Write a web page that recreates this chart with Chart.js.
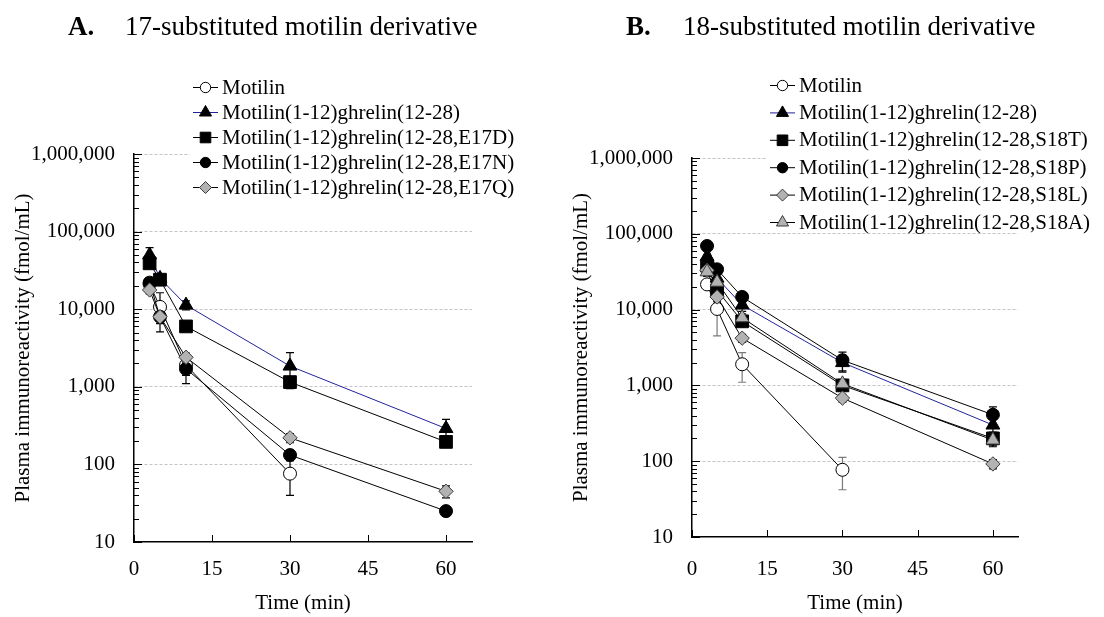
<!DOCTYPE html>
<html><head><meta charset="utf-8">
<script src="https://cdn.jsdelivr.net/npm/chart.js@4.4.1/dist/chart.umd.min.js"></script>
<style>
html,body{margin:0;padding:0;background:#fff;}
#wrap{position:relative;width:1104px;height:617px;overflow:hidden;background:#fff;}
canvas{position:absolute;top:0;}
#ca{left:0;} #cb{left:552px;}
</style></head><body>
<div id="wrap"><canvas id="ca" width="552" height="617"></canvas><canvas id="cb" width="552" height="617"></canvas></div>
<script>
// ---------- data ----------
const times = [3, 5, 10, 30, 60];
const xTicks = [0, 15, 30, 45, 60];
const yTicks = [10, 100, 1000, 10000, 100000, 1000000];

// Panel A : 17-substituted
const labelsA = ['Motilin', 'Motilin(1-12)ghrelin(12-28)', 'Motilin(1-12)ghrelin(12-28,E17D)',
  'Motilin(1-12)ghrelin(12-28,E17N)', 'Motilin(1-12)ghrelin(12-28,E17Q)'];
const motilinA = [21000, 10700, 1900, 76, null];
const motilinAErr = [3000, 5600, 800, 36, null];
const ghrelinA = [50000, 25000, 11300, 1850, 290];
const ghrelinAErr = [12000, 3000, 1500, 900, 90];
const e17d = [39000, 24000, 6000, 1150, 195];
const e17dErr = [5000, 3000, 800, 150, 25];
const e17n = [22000, 8000, 1700, 132, 25];
const e17nErr = [3000, 1000, 300, 20, 2];
const e17q = [17700, 8000, 2400, 220, 45];
const e17qErr = [2000, 1500, 300, 30, 8];

// Panel B : 18-substituted
const labelsB = ['Motilin', 'Motilin(1-12)ghrelin(12-28)', 'Motilin(1-12)ghrelin(12-28,S18T)',
  'Motilin(1-12)ghrelin(12-28,S18P)', 'Motilin(1-12)ghrelin(12-28,S18L)', 'Motilin(1-12)ghrelin(12-28,S18A)'];
const motilinB = [21500, 10200, 1900, 77, null];
const motilinBErr = [3000, 5700, 800, 35, null];
const ghrelinB = [50000, 26000, 11500, 2000, 300];
const ghrelinBErr = [10000, 4000, 2000, 500, 60];
const s18t = [38000, 18000, 7000, 1000, 200];
const s18tErr = [5000, 3000, 1000, 150, 40];
const s18p = [69000, 34000, 14700, 2150, 410];
const s18pErr = [8000, 4000, 2000, 600, 110];
const s18l = [33000, 14700, 4200, 680, 92];
const s18lErr = [4000, 2000, 500, 80, 13];
const s18a = [31500, 23000, 7800, 1050, 190];
const s18aErr = [4000, 3000, 1000, 150, 35];

// ---------- styles ----------
const FONT = "'Liberation Serif','Times New Roman',serif";
Chart.defaults.font.family = FONT;
Chart.defaults.color = '#000';
const ST = {
  open:   {shape:'circle',   r:6.5, fill:'#ffffff', stroke:'#000', line:'#000'},
  tri:    {shape:'triangle', r:8,   fill:'#000000', stroke:'#000', line:'#23239c'},
  sq:     {shape:'rect',     r:9,   fill:'#000000', stroke:'#000', line:'#000'},
  dot:    {shape:'circle',   r:6.5, fill:'#000000', stroke:'#000', line:'#000'},
  dia:    {shape:'rectRot',  r:7.2, fill:'#b2b2b2', stroke:'#3a3a3a', line:'#000'},
  gtri:   {shape:'triangle', r:8,   fill:'#b2b2b2', stroke:'#3a3a3a', line:'#000'}
};

function mkDs(label, vals, errs, st, idx) {
  const data = [];
  times.forEach((t, i) => { if (vals[i] != null) data.push({x: t, y: vals[i]}); });
  return {
    label, data, errs, vals, st,
    order: -idx,
    borderColor: st.line, borderWidth: 1, tension: 0, fill: false,
    pointStyle: st.shape, pointRadius: st.r, pointBackgroundColor: st.fill,
    pointBorderColor: st.stroke, pointBorderWidth: 1
  };
}

function drawMarker(ctx, st, x, y, r) {
  ctx.save();
  ctx.fillStyle = st.fill; ctx.strokeStyle = st.stroke; ctx.lineWidth = 1;
  ctx.beginPath();
  if (st.shape === 'circle') ctx.arc(x, y, r, 0, Math.PI * 2);
  else if (st.shape === 'triangle') {
    ctx.moveTo(x, y - r); ctx.lineTo(x + r * 0.866, y + r / 2); ctx.lineTo(x - r * 0.866, y + r / 2); ctx.closePath();
  } else if (st.shape === 'rect') {
    const h = r * 0.707; ctx.rect(x - h, y - h, 2 * h, 2 * h);
  } else {
    ctx.moveTo(x, y - r); ctx.lineTo(x + r, y); ctx.lineTo(x, y + r); ctx.lineTo(x - r, y); ctx.closePath();
  }
  ctx.fill(); ctx.stroke();
  ctx.restore();
}

function makeChart(id, cfg) {
  const decor = {
    id: 'decor',
    beforeDatasetsDraw(chart) {
      const ctx = chart.ctx, xs = chart.scales.x, ys = chart.scales.y;
      ctx.save();
      ctx.lineWidth = 1.2;
      chart.data.datasets.forEach(ds => {
        ctx.strokeStyle = ds.st === ST.open ? cfg.openErrColor : '#000';
        times.forEach((t, i) => {
          const v = ds.vals[i], e = ds.errs[i];
          if (v == null || !e) return;
          const px = xs.getPixelForValue(t);
          const y1 = ys.getPixelForValue(v + e);
          const y2 = ys.getPixelForValue(Math.max(v - e, 11));
          ctx.beginPath();
          ctx.moveTo(px, y1); ctx.lineTo(px, y2);
          ctx.moveTo(px - 4, y1); ctx.lineTo(px + 4, y1);
          ctx.moveTo(px - 4, y2); ctx.lineTo(px + 4, y2);
          ctx.stroke();
        });
      });
      ctx.restore();
    },
    afterDraw(chart) {
      const ctx = chart.ctx, xs = chart.scales.x, ys = chart.scales.y, a = chart.chartArea;
      ctx.save();
      ctx.strokeStyle = '#000'; ctx.lineWidth = 1;
      // y ticks (inward)
      for (let d = 10; d <= 1000000; d *= 10) {
        const py = Math.round(ys.getPixelForValue(d)) + 0.5;
        ctx.beginPath(); ctx.moveTo(a.left, py); ctx.lineTo(a.left + 8, py); ctx.stroke();
        if (d < 1000000) for (let k = 2; k <= 9; k++) {
          const pm = Math.round(ys.getPixelForValue(d * k)) + 0.5;
          ctx.beginPath(); ctx.moveTo(a.left, pm); ctx.lineTo(a.left + 5, pm); ctx.stroke();
        }
      }
      // x ticks (inward)
      xTicks.forEach(t => {
        const px = Math.round(xs.getPixelForValue(t)) + 0.5;
        ctx.beginPath(); ctx.moveTo(px, a.bottom); ctx.lineTo(px, a.bottom - 7); ctx.stroke();
      });
      // title
      ctx.fillStyle = '#000'; ctx.textBaseline = 'middle'; ctx.textAlign = 'left';
      ctx.font = 'bold 27px ' + FONT;
      ctx.fillText(cfg.letter, cfg.titleX, 28);
      ctx.font = '27px ' + FONT;
      ctx.fillText(cfg.title, cfg.titleX + 57, 28);
      // legend
      const L = cfg.legend;
      ctx.fillStyle = '#fff';
      ctx.fillRect(L.boxX, L.boxY, L.boxW, L.boxH);
      ctx.font = '21px ' + FONT;
      chart.data.datasets.forEach((ds, i) => {
        const y = L.y0 + L.dy * i;
        ctx.strokeStyle = ds.st.line; ctx.lineWidth = 1;
        ctx.beginPath(); ctx.moveTo(L.x0, y + 0.5); ctx.lineTo(L.x0 + 25, y + 0.5); ctx.stroke();
        const sz = {circle: 5.2, triangle: 7, rect: 7.5, rectRot: 6}[ds.st.shape];
        drawMarker(ctx, ds.st, L.x0 + 12.5, y + 0.5, sz);
        ctx.fillStyle = '#000'; ctx.textAlign = 'left'; ctx.textBaseline = 'middle';
        ctx.fillText(ds.label, L.x0 + 29, y + 1);
      });
      ctx.restore();
    }
  };
  return new Chart(document.getElementById(id), {
    type: 'line',
    data: {datasets: cfg.datasets},
    plugins: [decor],
    options: {
      responsive: false, animation: false, devicePixelRatio: 1,
      layout: {padding: {left: 0, right: cfg.padRight, top: cfg.top, bottom: 0}},
      plugins: {legend: {display: false}, tooltip: {enabled: false}},
      scales: {
        x: {
          type: 'linear', min: 0, max: 65,
          afterBuildTicks: s => { s.ticks = xTicks.map(v => ({value: v})); },
          afterFit: s => { s.height = cfg.xH; },
          grid: {display: false, drawTicks: false},
          border: {display: true, color: '#000', width: 1.5},
          ticks: {font: {size: 21}, color: '#000', padding: cfg.xPad, maxRotation: 0, autoSkip: false},
          title: {display: true, text: 'Time (min)', font: {size: 21}, color: '#000', padding: {top: 0, bottom: 1}}
        },
        y: {
          type: 'logarithmic', min: 10, max: 1000000,
          afterBuildTicks: s => { s.ticks = yTicks.map(v => ({value: v})); },
          afterFit: s => { s.width = cfg.yW; },
          grid: {display: true, drawTicks: false, lineWidth: 1,
                 color: c => (c.tick && c.tick.value > 10) ? '#c4c4c4' : 'rgba(0,0,0,0)'},
          border: {display: true, color: '#000', width: 1.5, dash: [3, 2]},
          ticks: {font: {size: 21}, color: '#000', padding: 19, autoSkip: false,
                  callback: v => Number(v).toLocaleString('en-US')},
          title: {display: true, text: 'Plasma immunoreactivity (fmol/mL)', font: {size: 21}, color: '#000',
                  padding: {top: cfg.yTitlePad, bottom: 0}}
        }
      }
    }
  });
}

const dsA = [
  mkDs(labelsA[0], motilinA, motilinAErr, ST.open, 0),
  mkDs(labelsA[1], ghrelinA, ghrelinAErr, ST.tri, 1),
  mkDs(labelsA[2], e17d, e17dErr, ST.sq, 2),
  mkDs(labelsA[3], e17n, e17nErr, ST.dot, 3),
  mkDs(labelsA[4], e17q, e17qErr, ST.dia, 4)
];
const dsB = [
  mkDs(labelsB[0], motilinB, motilinBErr, ST.open, 0),
  mkDs(labelsB[1], ghrelinB, ghrelinBErr, ST.tri, 1),
  mkDs(labelsB[2], s18t, s18tErr, ST.sq, 2),
  mkDs(labelsB[3], s18p, s18pErr, ST.dot, 3),
  mkDs(labelsB[4], s18l, s18lErr, ST.dia, 4),
  mkDs(labelsB[5], s18a, s18aErr, ST.gtri, 5)
];

makeChart('ca', {
  datasets: dsA, padRight: 80, top: 154, xH: 75, yW: 134, xPad: 15, yTitlePad: 11,
  letter: 'A.', title: '17-substituted motilin derivative', titleX: 68, openErrColor: '#000',
  legend: {x0: 193, y0: 87, dy: 25, boxX: 190, boxY: 72, boxW: 362, boxH: 128}
});
makeChart('cb', {
  datasets: dsB, padRight: 86, top: 158, xH: 80, yW: 140, xPad: 20, yTitlePad: 17,
  letter: 'B.', title: '18-substituted motilin derivative', titleX: 74, openErrColor: '#7a7a7a',
  legend: {x0: 218, y0: 85, dy: 27.4, boxX: 215, boxY: 70, boxW: 337, boxH: 160}
});
</script>
</body></html>
